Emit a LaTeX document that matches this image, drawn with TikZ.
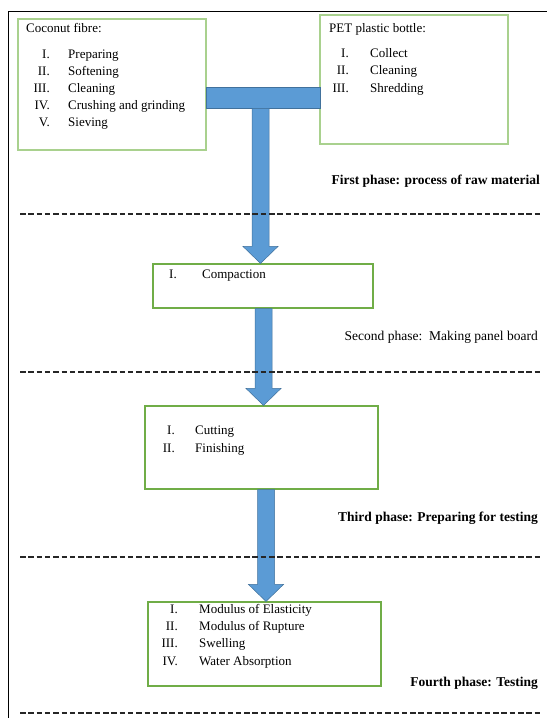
\documentclass[tikz,border=0pt]{standalone}
\usepackage{fontspec}
\setmainfont{Liberation Serif}
\usetikzlibrary{calc}
\definecolor{boxgreenlight}{HTML}{A9D18E}
\definecolor{boxgreen}{HTML}{70AD47}
\definecolor{arrowfill}{HTML}{5B9BD5}
\definecolor{arrowline}{HTML}{41719C}
\tikzset{
  lightbox/.style={draw=boxgreenlight, line width=1.2pt},
  greenbox/.style={draw=boxgreen, line width=1.1pt},
  txt/.style={inner sep=0pt, font=\fontsize{13}{15}\selectfont},
  num/.style={txt, anchor=mid east},
  itm/.style={txt, anchor=mid west},
  phase/.style={inner sep=0pt, font=\fontsize{13.5}{15}\selectfont, anchor=mid east},
  sep/.style={draw=black!85, line width=1.1pt, dash pattern=on 5.5pt off 2.8pt},
  frameline/.style={draw=black, line width=0.9pt},
  barrow/.style={fill=arrowfill, draw=arrowline, line width=0.5pt},
}
\newcommand\blockarrow[3]{%
  \path[barrow] let \p1=($(#1)+(#3,0)$), \p2=(#2) in
    (\x1-8.5pt,\y1) -- (\x1+8.5pt,\y1) -- (\x1+8.5pt,\y2+17pt) -- (\x1+17.5pt,\y2+17pt)
    -- (\x1,\y2) -- (\x1-17.5pt,\y2+17pt) -- (\x1-8.5pt,\y2+17pt) -- cycle;}
\begin{document}
\begin{tikzpicture}[x=1pt,y=-1pt]
\useasboundingbox (0,0) rectangle (547,718);
% frame
\draw[frameline] (8,718) -- (8,11) -- (547,11);

% boxes
\node[lightbox, inner sep=0pt, minimum width=188pt, minimum height=131pt] (coco) at (112,84.5) {};
\node[lightbox, inner sep=0pt, minimum width=188pt, minimum height=129pt] (pet) at (414,79.5) {};
\node[greenbox, inner sep=0pt, minimum width=220pt, minimum height=44pt] (comp) at (263,286) {};
\node[greenbox, inner sep=0pt, minimum width=233pt, minimum height=83pt] (cut) at (261.5,447.5) {};
\node[greenbox, inner sep=0pt, minimum width=233pt, minimum height=84pt] (test) at (264.5,644) {};

% T bar
\node[barrow, inner sep=0pt, minimum width=114pt, minimum height=21pt] (tbar) at (263,97.5) {};

% arrows
\blockarrow{tbar.south}{comp.north}{-2.5}
\blockarrow{comp.south}{cut.north}{0.5}
\blockarrow{cut.south}{test.north}{4.5}

% coconut text
\node[itm] (cocotitle) at (26,30) {Coconut fibre:};
\foreach \n/\t [count=\i] in {I./Preparing, II./Softening, III./Cleaning, IV./Crushing and grinding, V./Sieving}{
  \node[num] (cn\i) at (50,{56+17*(\i-1)}) {\n};
  \node[itm] (ct\i) at (68,{56+17*(\i-1)}) {\t};
}
% PET text
\node[itm] (pettitle) at (329,30) {PET plastic bottle:};
\foreach \n/\t [count=\i] in {I./Collect, II./Cleaning, III./Shredding}{
  \node[num] (pn\i) at (349,{55+17.5*(\i-1)}) {\n};
  \node[itm] (pt\i) at (370,{55+17.5*(\i-1)}) {\t};
}
% compaction
\node[num] (compn) at (177,276) {I.};
\node[itm] (compt) at (202,276) {Compaction};
% cutting
\foreach \n/\t [count=\i] in {I./Cutting, II./Finishing}{
  \node[num] (kn\i) at (175,{432+18*(\i-1)}) {\n};
  \node[itm] (kt\i) at (195,{432+18*(\i-1)}) {\t};
}
% testing
\foreach \n/\t [count=\i] in {I./Modulus of Elasticity, II./Modulus of Rupture, III./Swelling, IV./Water Absorption}{
  \node[num] (tn\i) at (178,{611+17.3*(\i-1)}) {\n};
  \node[itm] (tt\i) at (199,{611+17.3*(\i-1)}) {\t};
}

% phase labels
\node[phase] (ph1) at (540,182) {\bfseries First phase: process of raw material};
\node[phase] (ph2) at (538,338) {Second phase:\ \ Making panel board};
\node[phase] (ph3) at (538,519) {\bfseries Third phase: Preparing for testing};
\node[phase] (ph4) at (538,684) {\bfseries Fourth phase: Testing};

% separators
\draw[sep] (20,214) -- (540,214);
\draw[sep] (20,372) -- (540,372);
\draw[sep] (20,557) -- (540,557);
\draw[sep] (20,713) -- (540,713);
\end{tikzpicture}
\end{document}
